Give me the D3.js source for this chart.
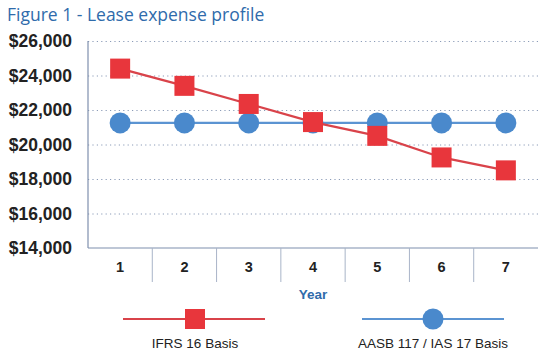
<!DOCTYPE html>
<html lang="en">
<head>
<meta charset="UTF-8">
<title>Lease expense profile</title>
<script src="https://d3js.org/d3.v7.min.js"></script>
<style>
  body { margin: 0; background: #fff; font-family: "Open Sans", sans-serif; }
  .grid line { stroke: #8c9cb8; stroke-dasharray: 1.2,3.2; }
  .grid path { display: none; }
</style>
</head>
<body>
<div id="chart"></div>
<script>
// data
const years = ["1", "2", "3", "4", "5", "6", "7"];
const ifrs16 = [24400, 23400, 22350, 21300, 20500, 19250, 18500];
const aasb117 = [21250, 21250, 21250, 21250, 21250, 21250, 21250];
const yTicks = [14000, 16000, 18000, 20000, 22000, 24000, 26000];

const W = 546, H = 354;
const red = "#e8363c", blue = "#4a89cc";
const redLine = "#d9434a", blueLine = "#5b94d2";

const svg = d3.select("#chart").append("svg")
  .attr("width", W).attr("height", H);

const x = d3.scaleBand().domain(years).range([88, 538]);
const y = d3.scaleLinear().domain([14000, 26000]).range([248, 41]);
const cx = d => x(d) + x.bandwidth() / 2;

// title
svg.append("text")
  .attr("x", 7).attr("y", 21)
  .style("font-size", "17.5px")
  .style("fill", "#2f6bab")
  .text("Figure 1 - Lease expense profile");

// grid lines
svg.append("g")
  .attr("class", "grid")
  .attr("transform", "translate(88,0)")
  .call(d3.axisLeft(y).tickValues(yTicks.slice(1)).tickSize(-450).tickFormat(""));

// y labels
svg.append("g").selectAll("text")
  .data(yTicks).join("text")
  .attr("x", 72).attr("y", d => y(d) + 6)
  .attr("text-anchor", "end")
  .style("font-family", "'Liberation Sans', Arial, sans-serif")
  .style("font-size", "17.5px").style("font-weight", "bold").style("fill", "#222")
  .text(d => "$" + d3.format(",")(d));

// axis lines
svg.append("line")
  .attr("x1", 88).attr("x2", 88).attr("y1", 41).attr("y2", 248)
  .attr("stroke", "#7f8fae").attr("stroke-width", 1.2);
svg.append("line")
  .attr("x1", 88).attr("x2", 538).attr("y1", 248).attr("y2", 248)
  .attr("stroke", "#7f8fae").attr("stroke-width", 1.2);

// category separators
svg.append("g").selectAll("line")
  .data(years.slice(1)).join("line")
  .attr("x1", d => x(d)).attr("x2", d => x(d))
  .attr("y1", 248).attr("y2", 282)
  .attr("stroke", "#a9b4c8").attr("stroke-width", 1);

// x labels
svg.append("g").selectAll("text")
  .data(years).join("text")
  .attr("x", d => cx(d)).attr("y", 272)
  .attr("text-anchor", "middle")
  .style("font-family", "'Liberation Sans', Arial, sans-serif")
  .style("font-size", "14.5px").style("font-weight", "bold").style("fill", "#222")
  .text(d => d);

svg.append("text")
  .attr("x", cx("4")).attr("y", 299)
  .attr("text-anchor", "middle")
  .style("font-family", "'Liberation Sans', Arial, sans-serif")
  .style("font-size", "13.5px").style("font-weight", "bold").style("fill", "#2f6bab")
  .text("Year");

// series
const line = d3.line().x(d => cx(d[0])).y(d => y(d[1]));

svg.append("path")
  .datum(years.map((yr, i) => [yr, aasb117[i]]))
  .attr("d", line).attr("fill", "none")
  .attr("stroke", blueLine).attr("stroke-width", 2.2);

svg.append("g").selectAll("circle")
  .data(years.map((yr, i) => [yr, aasb117[i]])).join("circle")
  .attr("cx", d => cx(d[0])).attr("cy", d => y(d[1]))
  .attr("r", 10.5).attr("fill", blue);

svg.append("path")
  .datum(years.map((yr, i) => [yr, ifrs16[i]]))
  .attr("d", line).attr("fill", "none")
  .attr("stroke", redLine).attr("stroke-width", 2.2);

svg.append("g").selectAll("rect")
  .data(years.map((yr, i) => [yr, ifrs16[i]])).join("rect")
  .attr("x", d => cx(d[0]) - 10).attr("y", d => y(d[1]) - 10)
  .attr("width", 20).attr("height", 20).attr("fill", red);

// legend
const legend = [
  { label: "IFRS 16 Basis", x1: 123, x2: 265, mx: 195, shape: "square", color: red, lc: redLine },
  { label: "AASB 117 / IAS 17 Basis", x1: 362, x2: 504, mx: 433, shape: "circle", color: blue, lc: blueLine }
];
const lg = svg.append("g").selectAll("g").data(legend).join("g");
lg.append("line")
  .attr("x1", d => d.x1).attr("x2", d => d.x2).attr("y1", 319).attr("y2", 319)
  .attr("stroke", d => d.lc).attr("stroke-width", 2.2);
lg.filter(d => d.shape === "square").append("rect")
  .attr("x", d => d.mx - 10).attr("y", 309).attr("width", 20).attr("height", 20)
  .attr("fill", d => d.color);
lg.filter(d => d.shape === "circle").append("circle")
  .attr("cx", d => d.mx).attr("cy", 319).attr("r", 10.5)
  .attr("fill", d => d.color);
lg.append("text")
  .attr("x", d => d.mx).attr("y", 348)
  .attr("text-anchor", "middle")
  .style("font-family", "'Liberation Sans', Arial, sans-serif")
  .style("font-size", "13.5px").style("fill", "#222")
  .text(d => d.label);
</script>
</body>
</html>
